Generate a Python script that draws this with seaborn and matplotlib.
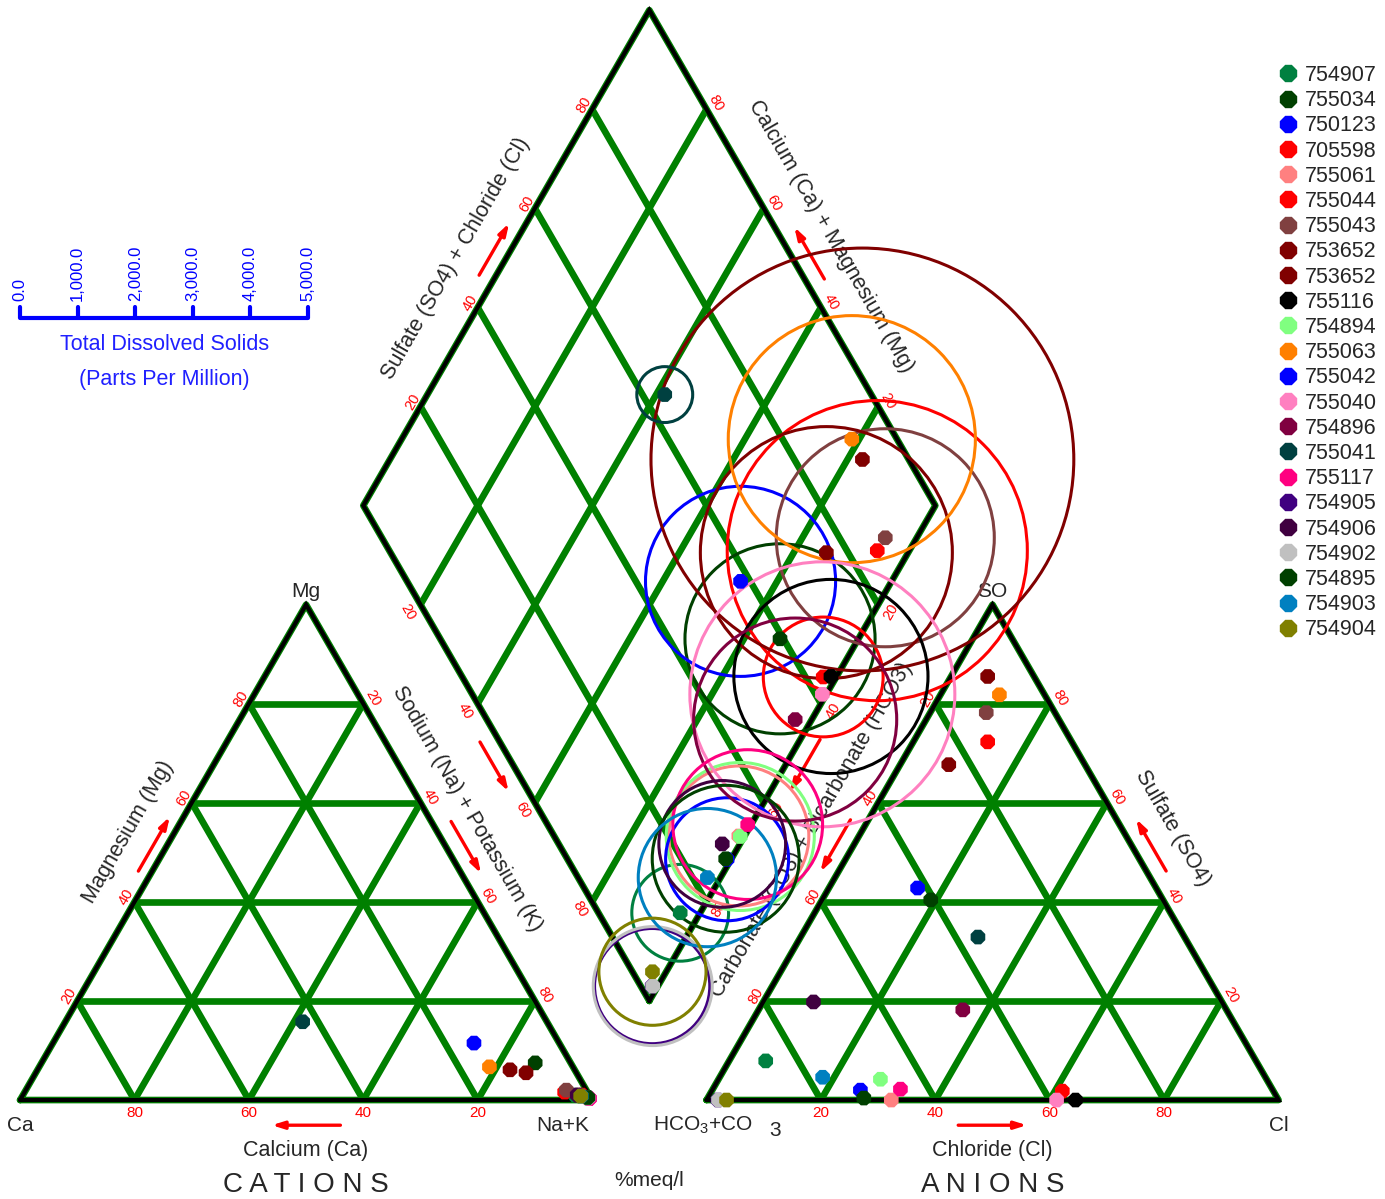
import numpy as np
import pandas as pd
import seaborn as sns
import matplotlib.pyplot as plt
from matplotlib.patches import Circle
from matplotlib.lines import Line2D

sns.set_style("white")
plt.rcParams['font.family'] = ['Liberation Sans', 'DejaVu Sans']
plt.rcParams['mathtext.fontset'] = 'custom'
plt.rcParams['mathtext.rm'] = 'Liberation Sans'

# samples in legend order (753652 appears twice)
sample_ids = ['754907', '755034', '750123', '705598', '755061', '755044',
              '755043', '753652', '753652', '755116', '754894', '755063',
              '755042', '755040', '754896', '755041', '755117', '754905',
              '754906', '754902', '754895', '754903', '754904']
sample_colors = ['#008040', '#004000', '#0000ff', '#ff0000', '#ff8080', '#ff0000',
                 '#804040', '#800000', '#800000', '#000000', '#80ff80', '#ff8000',
                 '#0000ff', '#ff80c0', '#800040', '#004040', '#ff0080', '#400080',
                 '#400040', '#c0c0c0', '#004000', '#0080c0', '#808000']

# cations, %meq/l
ca_pct = [2.5, 6.2, 14.9, 4.0, 0.6, 1.3, 3.5, 11.3, 8.8, 0.5, 0.4, 14.6,
          0.4, 0.4, 1.9, 42.7, 0.3, 0.5, 2.1, 0.5, 0.5, 1.5, 1.6]
mg_pct = [1.0, 7.5, 11.5, 1.6, 0.4, 1.0, 2.0, 6.1, 5.5, 0.5, 0.3, 6.7,
          0.3, 0.3, 1.0, 15.8, 0.3, 0.5, 1.0, 0.4, 0.5, 0.8, 0.8]
nak_pct = [96.5, 86.3, 73.6, 94.4, 99.0, 97.7, 94.5, 82.6, 85.7, 99.0, 99.3, 78.7,
           99.3, 99.3, 97.1, 41.5, 99.4, 99.0, 96.9, 99.1, 99.0, 97.7, 97.6]
# anions, %meq/l
hco3_pct = [85.7, 40.6, 41.7, 14.7, 67.7, 36.9, 12.0, 8.1, 23.8, 35.5, 67.5, 7.9,
            72.1, 38.8, 46.1, 36.1, 65.0, 98.0, 71.4, 97.9, 72.3, 77.4, 96.5]
so4_pct = [7.9, 40.4, 42.8, 72.3, 0.0, 1.8, 78.2, 85.5, 67.7, 0.0, 4.2, 81.8,
           2.0, 0.0, 18.2, 32.9, 2.2, 0.0, 19.8, 0.0, 0.4, 4.6, 0.0]
cl_pct = [6.4, 19.0, 15.5, 13.0, 32.3, 61.3, 9.8, 6.4, 8.5, 64.5, 28.3, 10.3,
          25.9, 61.2, 35.7, 31.0, 32.8, 2.0, 8.8, 2.1, 27.3, 18.0, 3.5]
# total dissolved solids, ppm
tds_ppm = [1680, 3300, 3300, 5210, 2430, 2080, 3785, 7340, 4375, 3370, 2570, 4290,
           2135, 4600, 3525, 970, 2600, 2000, 2200, 2065, 2550, 2400, 1860]

tds_ticks = [0, 1000, 2000, 3000, 4000, 5000]
grid_steps = [0.2, 0.4, 0.6, 0.8]

# ---- geometry of the piper diagram (triangle side = 1)
H = np.sqrt(3) / 2
GAP = 0.2
CA, NAK, MG = np.array([0, 0]), np.array([1, 0]), np.array([0.5, H])
HC, CL, SO = np.array([1 + GAP, 0]), np.array([2 + GAP, 0]), np.array([1.5 + GAP, H])
DB = np.array([1 + GAP / 2, GAP * H])
DL = DB + np.array([-0.5, H])
DR = DB + np.array([0.5, H])
DT = DB + np.array([0, 2 * H])
TDS_SCALE = 0.5035 / 5000  # bubble diameter per ppm


def lerp(p, q, t):
    return np.asarray(p) + (np.asarray(q) - np.asarray(p)) * t


def along(p0, p1, t, off):
    # point on edge p0->p1 at fraction t, shifted by off along the left normal
    d = np.asarray(p1, float) - np.asarray(p0, float)
    d = d / np.hypot(*d)
    return lerp(p0, p1, t) + np.array([-d[1], d[0]]) * off


df = pd.DataFrame({'id': sample_ids, 'color': sample_colors,
                   'ca': ca_pct, 'mg': mg_pct, 'nak': nak_pct,
                   'hco3': hco3_pct, 'so4': so4_pct, 'cl': cl_pct, 'tds': tds_ppm})
df['key'] = [f'{i:02d}' for i in range(len(df))]
m, n = df['mg'] / 100, df['nak'] / 100
s, c = df['so4'] / 100, df['cl'] / 100
df['cx'], df['cy'] = n + 0.5 * m, H * m
df['ax'], df['ay'] = HC[0] + c + 0.5 * s, H * s
q = s + c
df['dx'] = DB[0] + 0.5 * (n + q - 1)
df['dy'] = DB[1] + H * (1 - n + q)

pts = pd.concat([
    df[['key', 'cx', 'cy']].set_axis(['key', 'x', 'y'], axis=1),
    df[['key', 'ax', 'ay']].set_axis(['key', 'x', 'y'], axis=1),
    df[['key', 'dx', 'dy']].set_axis(['key', 'x', 'y'], axis=1),
])
palette = dict(zip(df['key'], df['color']))

fig = plt.figure(figsize=(13.85, 11.99), dpi=100)
ax = fig.add_axes([0, 0, 1, 1])
ax.set_xlim(-0.035, 2.386)
ax.set_ylim(-0.173, 1.923)
ax.set_aspect('equal')
ax.axis('off')

GREEN, RED = '#008000', '#ff0000'

# grid lines
for a, b, cc in ((CA, NAK, MG), (HC, CL, SO)):
    for t in grid_steps:
        for v, o1, o2 in ((a, b, cc), (b, cc, a), (cc, a, b)):
            p, r = lerp(o1, v, t), lerp(o2, v, t)
            ax.plot([p[0], r[0]], [p[1], r[1]], color=GREEN, lw=4.8, zorder=1,
                    solid_capstyle='butt')
for t in grid_steps:
    for p, r in ((lerp(DL, DB, t), lerp(DT, DR, t)), (lerp(DL, DT, t), lerp(DB, DR, t))):
        ax.plot([p[0], r[0]], [p[1], r[1]], color=GREEN, lw=4.8, zorder=1,
                solid_capstyle='butt')

# outlines
for poly in ([CA, NAK, MG, CA], [HC, CL, SO, HC], [DB, DR, DT, DL, DB]):
    xy = np.array(poly)
    ax.plot(xy[:, 0], xy[:, 1], color=GREEN, lw=4.8, zorder=1)
    ax.plot(xy[:, 0], xy[:, 1], color='black', lw=3.0, zorder=2, solid_joinstyle='miter')

# tick labels: (start, end, label from t, offset, rotation)
edges = [
    (CA, MG, lambda t: 100 * t, 0.016, 60),
    (NAK, MG, lambda t: 100 - 100 * t, -0.02, -60),
    (HC, SO, lambda t: 100 - 100 * t, 0.016, 60),
    (CL, SO, lambda t: 100 * t, -0.02, -60),
    (DL, DT, lambda t: 100 * t, 0.016, 60),
    (DR, DT, lambda t: 100 * t, -0.02, -60),
    (DL, DB, lambda t: 100 * t, -0.025, -60),
    (DB, DR, lambda t: 100 - 100 * t, -0.025, 60),
    (CA, NAK, lambda t: 100 - 100 * t, -0.023, 0),
    (HC, CL, lambda t: 100 * t, -0.023, 0),
]
for p0, p1, lab, off, rot in edges:
    for t in grid_steps:
        x, y = along(p0, p1, t, off)
        ax.text(x, y, f'{lab(t):.0f}', color=RED, fontsize=11 if rot == 0 else 10.5,
                rotation=rot, ha='center', va='center', zorder=3)

# axis titles
titles = [
    (CA, MG, 0.5, 0.07, 60, 'Magnesium (Mg)'),
    (NAK, MG, 0.55, -0.066, -60, 'Sodium (Na) + Potassium (K)'),
    (DL, DT, 0.455, 0.077, 60, 'Sulfate (SO4) + Chloride (Cl)'),
    (DR, DT, 0.5, -0.077, -60, 'Calcium (Ca) + Magnesium (Mg)'),
    (DB, DR, 0.4, -0.096, 60, 'Carbonate (CO3) + Bicarbonate (HCO3)'),
    (CL, SO, 0.505, -0.077, -60, 'Sulfate (SO4)'),
    (CA, NAK, 0.5, -0.089, 0, 'Calcium (Ca)'),
    (HC, CL, 0.5, -0.089, 0, 'Chloride (Cl)'),
]
for p0, p1, t, off, rot, txt in titles:
    x, y = along(p0, p1, t, off)
    ax.text(x, y, txt, fontsize=15.5, rotation=rot, ha='center', va='center',
            rotation_mode='anchor', zorder=3)

# direction arrows
arrows = [
    (CA, MG, 0.45, 0.56, 0.021), (NAK, MG, 0.545, 0.44, -0.03),
    (DL, DB, 0.46, 0.56, -0.03), (DL, DT, 0.45, 0.555, 0.026),
    (DR, DT, 0.44, 0.545, -0.03), (DB, DR, 0.545, 0.44, -0.03),
    (HC, SO, 0.55, 0.445, 0.027), (CL, SO, 0.445, 0.55, -0.03),
    (CA, NAK, 0.56, 0.44, -0.044), (HC, CL, 0.44, 0.56, -0.044),
]
for p0, p1, t0, t1, off in arrows:
    ax.annotate('', xy=along(p0, p1, t1, off), xytext=along(p0, p1, t0, off),
                arrowprops=dict(arrowstyle='-|>,head_length=0.7,head_width=0.22',
                                color=RED, lw=2.4, shrinkA=0, shrinkB=0), zorder=3)

# corner labels
ax.text(CA[0], -0.044, 'Ca', fontsize=15, ha='center', va='center')
ax.text(0.949, -0.044, 'Na+K', fontsize=15, ha='center', va='center')
ax.text(MG[0], MG[1] + 0.023, 'Mg', fontsize=15, ha='center', va='center')
ax.text(1.107, -0.044, 'HCO$_3$+CO', fontsize=15, ha='left', va='center')
ax.text(1.32, -0.053, '3', fontsize=15, ha='center', va='center')
ax.text(CL[0], -0.044, 'Cl', fontsize=15, ha='center', va='center')
ax.text(SO[0], SO[1] + 0.023, 'SO', fontsize=15, ha='center', va='center')
ax.text(0.5, -0.149, 'C A T I O N S', fontsize=20, ha='center', va='center')
ax.text(1.7, -0.149, 'A N I O N S', fontsize=20, ha='center', va='center')
ax.text(DB[0], -0.14, '%meq/l', fontsize=15, ha='center', va='center')

# TDS scale bar
bar_y = 1.367
ax.plot([0, tds_ticks[-1] * TDS_SCALE], [bar_y, bar_y], color='blue', lw=3,
        solid_capstyle='butt')
for v in tds_ticks:
    ax.plot([v * TDS_SCALE] * 2, [bar_y, bar_y + 0.02], color='blue', lw=3)
    ax.text(v * TDS_SCALE, bar_y + 0.03, f'{v:,.1f}', rotation=90, color='blue',
            fontsize=12, ha='center', va='bottom')
mid = tds_ticks[-1] * TDS_SCALE / 2
ax.text(mid, 1.32, 'Total Dissolved Solids', color='#2020ff', fontsize=15.5,
        ha='center', va='center')
ax.text(mid, 1.259, '(Parts Per Million)', color='#2020ff', fontsize=15.5,
        ha='center', va='center')

# TDS bubbles in the diamond
for _, r in df.iterrows():
    ax.add_patch(Circle((r['dx'], r['dy']), r['tds'] * TDS_SCALE / 2, fill=False,
                        ec=r['color'], lw=2.2, zorder=4))

sns.scatterplot(data=pts, x='x', y='y', hue='key', palette=palette, marker='8',
                s=130, linewidth=0, legend=False, ax=ax, zorder=5)
ax.set_xlim(-0.035, 2.386)
ax.set_ylim(-0.173, 1.923)

handles = [Line2D([0], [0], marker='8', ls='', color=col, markersize=13)
           for col in sample_colors]
ax.legend(handles, sample_ids, loc='upper left',
          bbox_to_anchor=(1277 / 1385, 1 - 65 / 1199), bbox_transform=fig.transFigure,
          frameon=False, fontsize=15.5, handlelength=1.0, handletextpad=0.3,
          labelspacing=0.195, borderpad=0, borderaxespad=0)

fig.savefig('out.png', dpi=100)
